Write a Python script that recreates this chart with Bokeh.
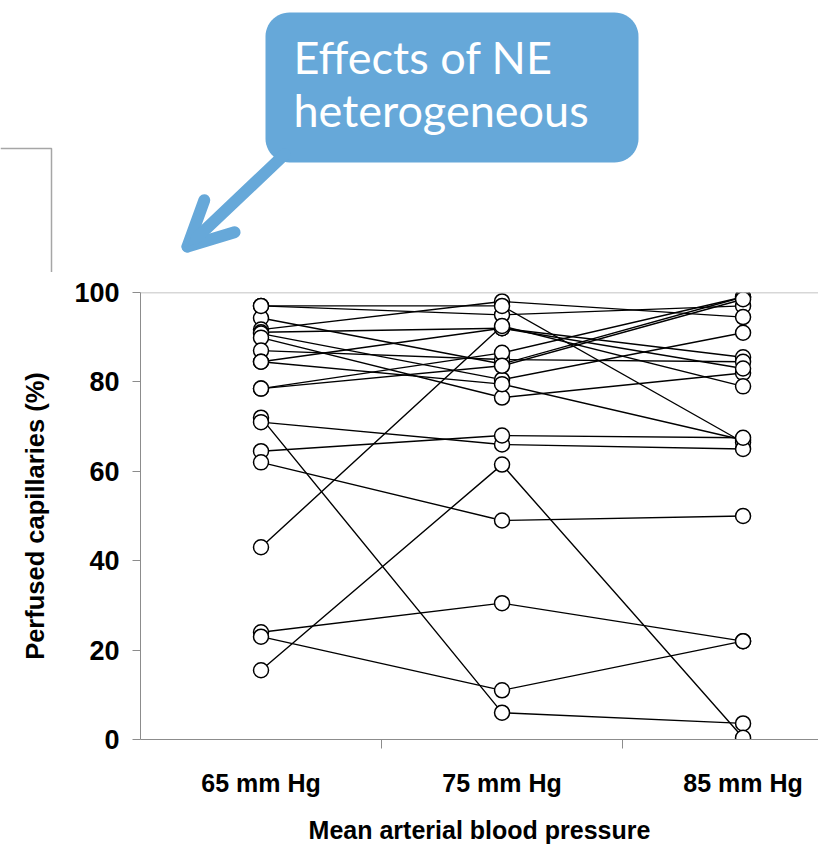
import numpy as np
from bokeh.plotting import figure
from bokeh.models import Range1d, FixedTicker, Span, Arrow, OpenHead
from bokeh.layouts import column, row
from bokeh.embed import file_html
from bokeh.resources import INLINE
from bokeh.core.properties import value

# ---------------- data ----------------
categories = ["65 mm Hg", "75 mm Hg", "85 mm Hg"]
cat_pos = [1, 2, 3]
perf_65 = [97, 94.3, 91.7, 91.1, 90.8, 89.9, 87, 84.5, 84.5, 78.5, 78.5, 43, 97,
           72, 71, 64.5, 62, 24, 23, 15.5]
perf_75 = [95, 84, 98, 92, 80.5, 76.5, 85, 79.5, 92, 86.5, 83.6, 92.5, 97,
           6, 66, 68, 49, 30.5, 11, 61.5]
perf_85 = [97, 99, 94.5, 85.5, 91, 82, 84.5, 67, 83, 99, 98.5, 79, 66.5,
           3.6, 65, 67.5, 50, 22, 22, 0.4]
y_ticks = [0, 20, 40, 60, 80, 100]
x_title = "Mean arterial blood pressure"
y_title = "Perfused capillaries (%)"
callout_lines = ["Effects of NE", "heterogeneous"]

BLUE = "#66A8D9"
GREY = "#8c8c8c"
FONT = "Liberation Sans"
TOP_H = 272

# ---------------- top: callout ----------------
top = figure(width=818, height=TOP_H, x_range=Range1d(0, 818), y_range=Range1d(TOP_H, 0),
             output_backend="svg", toolbar_location=None, min_border=0,
             x_axis_location=None, y_axis_location=None)
top.grid.visible = False
top.outline_line_color = None


def rounded_rect(x0, y0, x1, y1, r, n=14):
    xs, ys = [], []
    corners = [(x0 + r, y0 + r, 180, 270), (x1 - r, y0 + r, 270, 360),
               (x1 - r, y1 - r, 0, 90), (x0 + r, y1 - r, 90, 180)]
    for cx, cy, a0, a1 in corners:
        a = np.radians(np.linspace(a0, a1, n))
        xs.extend(cx + r * np.cos(a))
        ys.extend(cy + r * np.sin(a))
    return xs, ys


bx, by = rounded_rect(265, 12, 638, 162, 24)
top.patch(bx, by, fill_color=BLUE, line_color=None)
top.add_layout(Arrow(end=OpenHead(size=44, line_color=BLUE, line_width=12,
                                  line_cap="round", line_join="round"),
                     x_start=284, y_start=154, x_end=187, y_end=246,
                     line_color=BLUE, line_width=12, line_cap="round"))
top.text(x=[293, 293], y=[56, 109], text=callout_lines, text_font=value("Lato"),
         text_font_size="45px", text_color="white", text_baseline="alphabetic",
         text_align="left")
# fragment of an earlier panel
top.line(x=[0, 51, 51], y=[148, 148, TOP_H], line_color="#a6a6a6", line_width=1.5)

# ---------------- bottom: spaghetti plot ----------------
p = figure(width=818, height=846 - TOP_H, x_range=Range1d(0.5, 3.313), y_range=Range1d(0, 100),
           output_backend="svg", toolbar_location=None,
           min_border_left=140, min_border_right=0, min_border_top=292 - TOP_H,
           min_border_bottom=107)
p.grid.visible = False
p.outline_line_color = None
p.add_layout(Span(location=100, dimension="width", line_color="#b0b0b0", line_width=1.5))

xs = [cat_pos for _ in perf_65]
ys = [[a, b, c] for a, b, c in zip(perf_65, perf_75, perf_85)]
p.multi_line(xs=xs, ys=ys, line_color="black", line_width=1.4)
for xpos, vals in zip(cat_pos, [perf_65, perf_75, perf_85]):
    p.scatter(x=[xpos] * len(vals), y=vals, marker="circle", size=15,
              fill_color="white", line_color="black", line_width=1.5)

# y axis
p.yaxis.ticker = FixedTicker(ticks=y_ticks)
p.yaxis.axis_line_color = GREY
p.yaxis.major_tick_line_color = GREY
p.yaxis.major_tick_out = 8
p.yaxis.major_tick_in = 0
p.yaxis.minor_tick_line_color = None
p.yaxis.major_label_text_font = FONT
p.yaxis.major_label_text_font_style = "bold"
p.yaxis.major_label_text_font_size = "27px"
p.yaxis.major_label_text_color = "black"
p.yaxis.major_label_standoff = 13
p.yaxis.axis_label = y_title
p.yaxis.axis_label_text_font = FONT
p.yaxis.axis_label_text_font_style = "bold"
p.yaxis.axis_label_text_font_size = "25.5px"
p.yaxis.axis_label_text_color = "black"
p.yaxis.axis_label_standoff = 22

# x axis
p.xaxis.ticker = FixedTicker(ticks=cat_pos, minor_ticks=[1.5, 2.5])
p.xaxis.major_label_overrides = {k: v for k, v in zip(cat_pos, categories)}
p.xaxis.axis_line_color = GREY
p.xaxis.major_tick_line_color = None
p.xaxis.major_tick_out = 0
p.xaxis.major_tick_in = 0
p.xaxis.minor_tick_line_color = GREY
p.xaxis.minor_tick_out = 9
p.xaxis.minor_tick_in = 0
p.xaxis.major_label_text_font = FONT
p.xaxis.major_label_text_font_style = "bold"
p.xaxis.major_label_text_font_size = "25px"
p.xaxis.major_label_text_color = "black"
p.xaxis.major_label_standoff = 20
p.xaxis.axis_label = x_title
p.xaxis.axis_label_text_font = FONT
p.xaxis.axis_label_text_font_style = "bold"
p.xaxis.axis_label_text_font_size = "25px"
p.xaxis.axis_label_text_color = "black"
p.xaxis.axis_label_standoff = 16

layout = column(row(top), row(p), spacing=0)
open("out.html", "w").write(file_html(layout, INLINE))
